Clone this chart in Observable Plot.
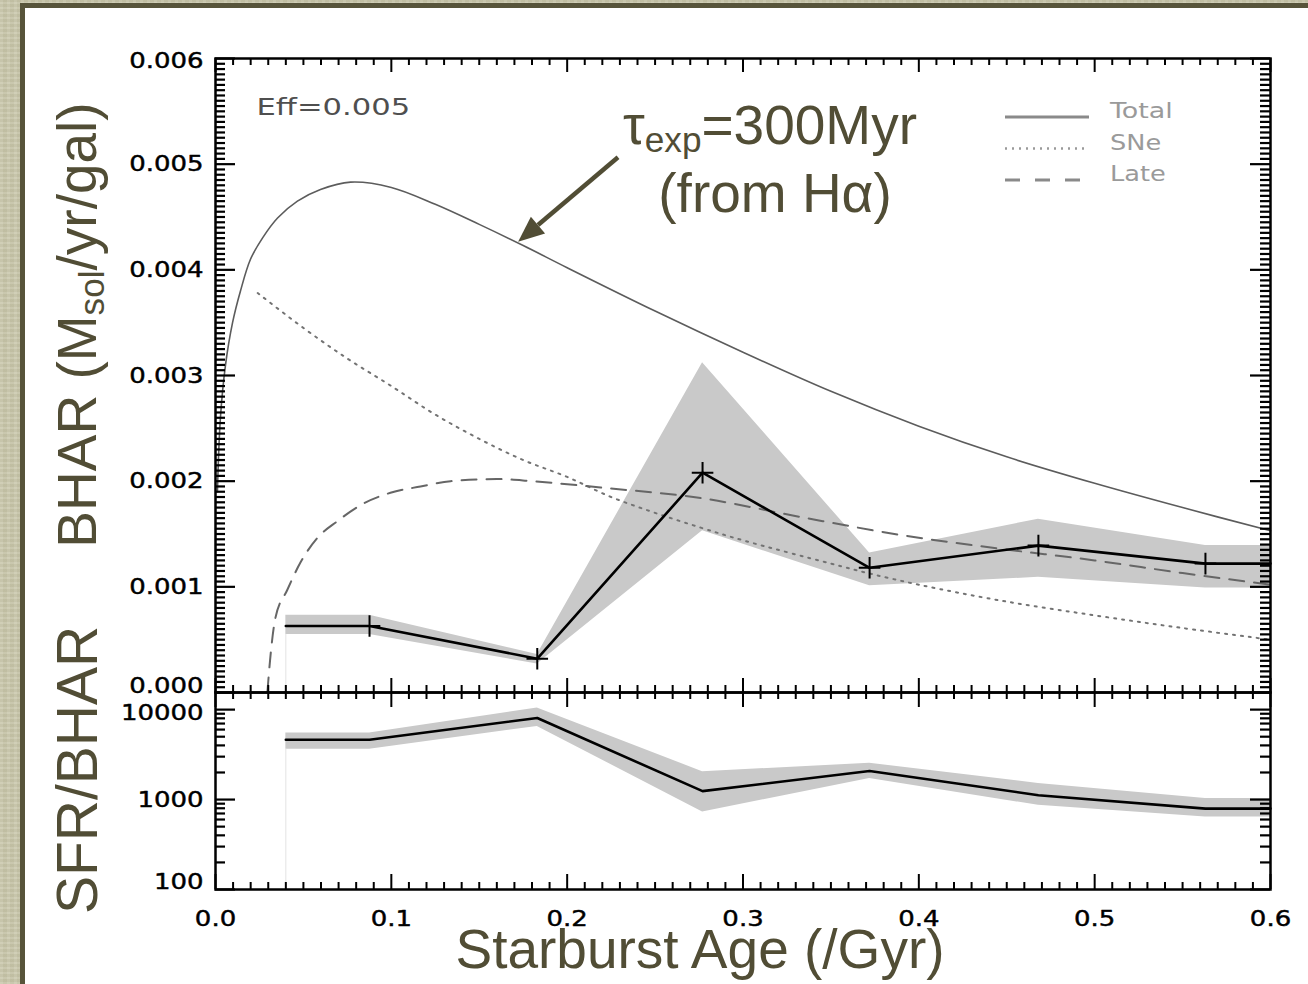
<!DOCTYPE html>
<html>
<head>
<meta charset="utf-8">
<script src="https://cdn.jsdelivr.net/npm/d3@7"></script>
<script src="https://cdn.jsdelivr.net/npm/@observablehq/plot@0.6"></script>
<style>
  html, body { margin: 0; padding: 0; }
  body { width: 1308px; height: 984px; overflow: hidden; background: #cac8ad; }
  #page { position: relative; width: 1308px; height: 984px; overflow: hidden;
    background-color: #cac8ad;
    background-image:
      repeating-linear-gradient(0deg, rgba(255,255,255,0.07) 0 2px, rgba(90,85,50,0.05) 2px 5px),
      repeating-linear-gradient(90deg, rgba(255,255,255,0.06) 0 3px, rgba(90,85,50,0.04) 3px 7px);
  }
  #card { position: absolute; left: 20px; top: 3px; width: 1300px; height: 1000px;
    background: #fff; border: 5px solid #57543a; box-sizing: border-box; }
  .plotwrap { position: absolute; left: 0; }
  .olive { position: absolute; font-family: "Liberation Sans", Arial, sans-serif;
    font-size: 55px; line-height: 1; color: #514d35; white-space: nowrap; }
  .rot { transform: translate(-50%, -50%) rotate(-90deg); }
  .sub { font-size: 0.64em; position: relative; top: 0.22em; vertical-align: baseline; }
  #legend { position: absolute; left: 0; top: 0; }
</style>
</head>
<body>
<div id="page">
  <div id="card"></div>
  <div id="topPlot" class="plotwrap" style="top:0px"></div>
  <div id="botPlot" class="plotwrap" style="top:692px"></div>
  <svg id="legend" width="1308" height="260"></svg>
  <div class="olive rot" style="left:77px; top:325px;">BHAR (M<span class="sub">sol</span>/yr/gal)</div>
  <div class="olive rot" style="left:77px; top:770px; font-size:57px;">SFR/BHAR</div>
  <div class="olive" style="left:700px; top:922px; transform: translateX(-50%);">Starburst Age (/Gyr)</div>
  <div class="olive" style="left:623px; top:98px;">τ<span class="sub">exp</span>=300Myr</div>
  <div class="olive" style="left:775px; top:166px; transform: translateX(-50%);">(from Hα)</div>
</div>
<script>
// ---------------- data ----------------
// Model curves (BHAR, Msol/yr/gal) vs starburst age (Gyr)
const totalAge  = [0.0011, 0.0028, 0.0057, 0.0097, 0.0142, 0.0199, 0.0267, 0.0353, 0.0466, 0.0597, 0.0768, 0.1, 0.125, 0.15, 0.175, 0.2, 0.25, 0.3, 0.35, 0.4, 0.45, 0.5, 0.55, 0.6];
const totalBHAR = [0.0019, 0.0026, 0.0031, 0.0035, 0.0038, 0.0041, 0.0043, 0.00449, 0.00465, 0.00476, 0.00483, 0.00478, 0.00462, 0.00443, 0.00423, 0.00402, 0.00361, 0.00322, 0.00285, 0.00252, 0.00223, 0.00198, 0.00175, 0.00153];

const snAge  = [0.024, 0.05, 0.075, 0.1, 0.125, 0.15, 0.175, 0.2, 0.225, 0.25, 0.276, 0.3, 0.35, 0.371, 0.4, 0.4465, 0.5, 0.55, 0.6];
const snBHAR = [0.00378, 0.00345, 0.00316, 0.0029, 0.00263, 0.0024, 0.0022, 0.00204, 0.00185, 0.0017, 0.00156, 0.00144, 0.00122, 0.00113, 0.00102, 0.00087, 0.00073, 0.00061, 0.0005];

const lateAge  = [0.0295, 0.031, 0.034, 0.0408, 0.0483, 0.0578, 0.0692, 0.0843, 0.0995, 0.1166, 0.1337, 0.16, 0.18, 0.219, 0.276, 0.333, 0.39, 0.4465, 0.5, 0.55, 0.6];
const lateBHAR = [0, 0.0003, 0.0007, 0.00097, 0.00123, 0.00146, 0.00162, 0.00179, 0.00189, 0.00195, 0.002, 0.00202, 0.002, 0.00194, 0.00184, 0.00166, 0.00149, 0.00136, 0.00125, 0.00113, 0.00102];

// Observed BHAR with uncertainty band
const obsAge  = [0.04, 0.0876, 0.183, 0.277, 0.372, 0.468, 0.563, 0.6];
const obsBHAR = [0.00063, 0.00063, 0.00032, 0.00208, 0.00118, 0.00139, 0.00122, 0.00122];
const obsLo   = [0.00055, 0.00055, 0.00027, 0.00153, 0.00101, 0.00109, 0.00099, 0.00099];
const obsHi   = [0.00073, 0.00073, 0.00036, 0.00312, 0.00132, 0.00164, 0.00139, 0.00139];
const markerAge = [0.0876, 0.183, 0.277, 0.372, 0.468, 0.563];

// SFR/BHAR with uncertainty band
const ratio   = [4620, 4620, 8070, 1240, 2075, 1118, 793, 793];
const ratioLo = [3630, 3630, 6500, 728, 1718, 863, 640, 640];
const ratioHi = [5480, 5480, 10440, 2040, 2530, 1510, 1025, 1025];

// Axis ticks and labels
const xMajor = [0, 0.1, 0.2, 0.3, 0.4, 0.5, 0.6];
const xLabels = ["0.0", "0.1", "0.2", "0.3", "0.4", "0.5", "0.6"];
const yTopMajor = [0, 0.001, 0.002, 0.003, 0.004, 0.005, 0.006];
const yTopLabels = ["0.000", "0.001", "0.002", "0.003", "0.004", "0.005", "0.006"];
const yBotMajor = [100, 1000, 10000];
const yBotLabels = ["100", "1000", "10000"];
const yBotMinor = [200, 300, 400, 500, 600, 700, 800, 900, 2000, 3000, 4000, 5000, 6000, 7000, 8000, 9000];

// Legend and annotation
const legendNames = ["Total", "SNe", "Late"];
const effLabel = "Eff=0.005";
const arrowFrom = {age: 0.2292, bhar: 0.00506};
const arrowTo   = {age: 0.1724, bhar: 0.00426};

// --------------- build tables ---------------
const total = totalAge.map((a, i) => ({age: a, v: totalBHAR[i]}));
const sne   = snAge.map((a, i) => ({age: a, v: snBHAR[i]}));
const late  = lateAge.map((a, i) => ({age: a, v: lateBHAR[i]}));
const obs   = obsAge.map((a, i) => ({age: a, v: obsBHAR[i], lo: obsLo[i], hi: obsHi[i], r: ratio[i], rlo: ratioLo[i], rhi: ratioHi[i]}));
const markers = obs.filter(d => markerAge.includes(d.age));
const xMinor = d3.range(1, 60).map(i => i / 100).filter(v => !xMajor.some(m => Math.abs(m - v) < 1e-9));
const yTopMinor = d3.range(1, 120).map(i => i * 0.00005).filter(v => !yTopMajor.some(m => Math.abs(m - v) < 1e-12));

const W = 1308, ML = 215, MR = 38;
const FW = W - ML - MR;               // frame width
const TOP_H = 700, TOP_MT = 58, TOP_MB = 8;
const TFH = TOP_H - TOP_MT - TOP_MB;  // top frame height
const BOT_H = 292, BOT_MT = 0, BOT_MB = 95;
const BFH = BOT_H - BOT_MT - BOT_MB;  // bottom frame height

const tickFont = {fontFamily: "DejaVu Sans", fontSize: 22, fill: "#000", stroke: "#000", strokeWidth: 0.45};
const svgStyle = "background: transparent; overflow: visible;";

function yTicks(values, len, sw) {
  return [
    Plot.tickY(values, {y: d => d, insetRight: FW - len, stroke: "#000", strokeWidth: sw}),
    Plot.tickY(values, {y: d => d, insetLeft: FW - len, stroke: "#000", strokeWidth: sw})
  ];
}
function xTicks(values, len, fh, sw) {
  return [
    Plot.tickX(values, {x: d => d, insetTop: fh - len, stroke: "#000", strokeWidth: sw}),
    Plot.tickX(values, {x: d => d, insetBottom: fh - len, stroke: "#000", strokeWidth: sw})
  ];
}
// y tick labels; the end labels are nudged inward as in the original IDL figure
function yLabels(ticks, labels, lowDy, highDy) {
  const lab = d => labels[ticks.indexOf(d)];
  const lo = ticks[0], hi = ticks[ticks.length - 1];
  return [
    Plot.text(ticks.filter(d => d !== lo && d !== hi), {x: 0, y: d => d, text: lab, textAnchor: "end", dx: -12, ...tickFont}),
    Plot.text([lo], {x: 0, y: d => d, text: lab, textAnchor: "end", dx: -12, dy: lowDy, ...tickFont}),
    Plot.text([hi], {x: 0, y: d => d, text: lab, textAnchor: "end", dx: -12, dy: highDy, ...tickFont})
  ];
}
// widen the (IDL-like) text glyphs horizontally
function widen(svg, factor, filter) {
  d3.select(svg).selectAll('g[aria-label="text"] text').each(function () {
    if (filter && !filter(this.textContent)) return;
    const L = this.getComputedTextLength();
    this.setAttribute("textLength", (L * factor).toFixed(1));
    this.setAttribute("lengthAdjust", "spacingAndGlyphs");
  });
}

// --------------- top panel ---------------
const topPlot = Plot.plot({
  width: W, height: TOP_H,
  marginLeft: ML, marginRight: MR, marginTop: TOP_MT, marginBottom: TOP_MB,
  style: svgStyle,
  x: {domain: [0, 0.6], axis: null},
  y: {domain: [0, 0.006], axis: null},
  marks: [
    Plot.areaY(obs, {x: "age", y1: "lo", y2: "hi", fill: "#c9c9c9", curve: "linear"}),
    Plot.ruleX(obs.slice(0, 1), {x: "age", y1: 0, y2: "lo", stroke: "#e3e3e3", strokeWidth: 1}),
    Plot.line(sne, {x: "age", y: "v", stroke: "#737373", strokeWidth: 2, strokeDasharray: "2,6", curve: "catmull-rom"}),
    Plot.line(late, {x: "age", y: "v", stroke: "#666", strokeWidth: 2, strokeDasharray: "15,10", curve: "monotone-x"}),
    Plot.line(total, {x: "age", y: "v", stroke: "#5c5c5c", strokeWidth: 1.6, curve: "catmull-rom"}),
    Plot.line(obs, {x: "age", y: "v", stroke: "#000", strokeWidth: 2.6}),
    Plot.dot(markers, {x: "age", y: "v", symbol: "plus", r: 7, stroke: "#000", strokeWidth: 2}),
    Plot.frame({stroke: "#000", strokeWidth: 2.5}),
    ...yTicks(yTopMajor, 20, 2.2),
    ...yTicks(yTopMinor, 10, 2.2),
    ...xTicks(xMajor, 14, TFH, 2),
    ...xTicks(xMinor, 7, TFH, 2),
    ...yLabels(yTopMajor, yTopLabels, -7, 2),
    Plot.text([effLabel], {frameAnchor: "top-left", text: d => d, dx: 41, dy: 40, fontFamily: "DejaVu Sans", fontSize: 23, fill: "#4f4f4f"})
  ]
});
document.getElementById("topPlot").appendChild(topPlot);
widen(topPlot, 1.18, t => t !== effLabel);
widen(topPlot, 1.33, t => t === effLabel);

// annotation arrow drawn through the plot's scales
{
  const sx = topPlot.scale("x"), sy = topPlot.scale("y");
  const x1 = sx.apply(arrowFrom.age), y1 = sy.apply(arrowFrom.bhar);
  const x2 = sx.apply(arrowTo.age),   y2 = sy.apply(arrowTo.bhar);
  const ang = Math.atan2(y2 - y1, x2 - x1);
  const hl = 26, hw = 11;
  const bx = x2 - hl * Math.cos(ang), by = y2 - hl * Math.sin(ang);
  const g = d3.select(topPlot).append("g");
  g.append("line").attr("x1", x1).attr("y1", y1).attr("x2", bx).attr("y2", by)
    .attr("stroke", "#514d35").attr("stroke-width", 4.5);
  g.append("polygon").attr("fill", "#514d35").attr("points", [
    [x2, y2],
    [bx + hw * Math.sin(ang), by - hw * Math.cos(ang)],
    [bx - hw * Math.sin(ang), by + hw * Math.cos(ang)]
  ].map(p => p.join(",")).join(" "));
}

// --------------- bottom panel ---------------
const botPlot = Plot.plot({
  width: W, height: BOT_H,
  marginLeft: ML, marginRight: MR, marginTop: BOT_MT, marginBottom: BOT_MB,
  style: svgStyle,
  x: {domain: [0, 0.6], axis: null},
  y: {type: "log", domain: [100, 15500], axis: null},
  marks: [
    Plot.areaY(obs, {x: "age", y1: "rlo", y2: "rhi", fill: "#c9c9c9", curve: "linear"}),
    Plot.ruleX(obs.slice(0, 1), {x: "age", y1: 100, y2: "rlo", stroke: "#e3e3e3", strokeWidth: 1}),
    Plot.line(obs, {x: "age", y: "r", stroke: "#000", strokeWidth: 2.6}),
    Plot.frame({stroke: "#000", strokeWidth: 2.5}),
    ...yTicks(yBotMajor, 20, 2.2),
    ...yTicks(yBotMinor, 10, 2.2),
    ...xTicks(xMajor, 15, BFH, 2),
    ...xTicks(xMinor, 7, BFH, 2),
    ...yLabels(yBotMajor, yBotLabels, -8, 3),
    Plot.text(xMajor, {x: d => d, y: 100, text: d => xLabels[xMajor.indexOf(d)], dy: 29, ...tickFont})
  ]
});
document.getElementById("botPlot").appendChild(botPlot);
widen(botPlot, 1.18);

// --------------- legend ---------------
{
  const leg = d3.select("#legend");
  const styles = [
    {dash: null, stroke: "#8a8a8a", w: 3},
    {dash: "2,5", stroke: "#9a9a9a", w: 2.5},
    {dash: "15,15", stroke: "#8a8a8a", w: 3}
  ];
  const lx1 = 1005, lx2 = 1089, ly0 = 117, dyL = 31.5;
  legendNames.forEach((name, i) => {
    const y = ly0 + i * dyL;
    leg.append("line").attr("x1", lx1).attr("x2", lx2).attr("y1", y).attr("y2", y)
      .attr("stroke", styles[i].stroke).attr("stroke-width", styles[i].w)
      .attr("stroke-dasharray", styles[i].dash);
    const t = leg.append("text").attr("x", 1110).attr("y", y + 1)
      .attr("font-family", "DejaVu Sans").attr("font-size", 21)
      .attr("fill", "#9a9a9a").text(name);
    const L = t.node().getComputedTextLength();
    t.attr("textLength", (L * (i === 0 ? 1.28 : 1.22)).toFixed(1)).attr("lengthAdjust", "spacingAndGlyphs");
  });
}
</script>
</body>
</html>
